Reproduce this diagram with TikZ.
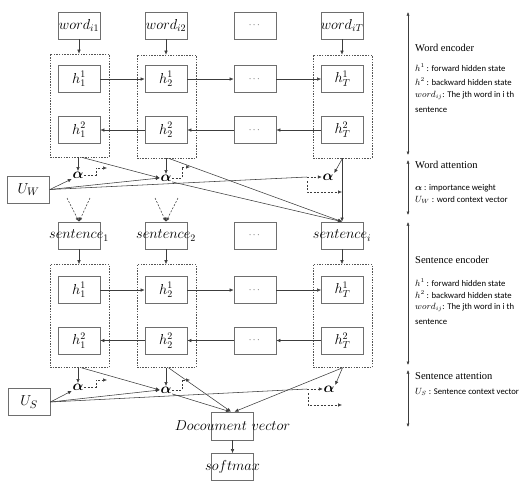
\documentclass[tikz,border=0pt]{standalone}
\usepackage{amsmath}
\usepackage{bm}
\usepackage{fontspec}
\newfontfamily\carlitofont{Carlito}
\newfontfamily\headfont{Liberation Serif}
\usetikzlibrary{arrows.meta}
\definecolor{boxc}{HTML}{6E6E6E}
\definecolor{linec}{HTML}{3C3C3C}
\definecolor{dashc}{HTML}{555555}
\begin{document}
\begin{tikzpicture}[x=1pt,y=-1pt,
 box/.style={draw=boxc, line width=0.7pt, minimum width=42pt, minimum height=27pt, inner sep=0pt, font=\fontsize{14}{16}\selectfont},
 grp/.style={draw=dashc, line width=0.6pt, dash pattern=on 1.5pt off 1.2pt, minimum width=59pt, minimum height=103pt, inner sep=0pt},
 arr/.style={draw=linec, line width=0.55pt, -{Latex[length=4pt,width=3.5pt]}},
 darr/.style={arr, dash pattern=on 2pt off 1.5pt},
 alp/.style={inner sep=0.5pt, font=\fontsize{15}{16}\selectfont},
 lbl/.style={inner sep=0pt, font=\fontsize{14}{16}\selectfont},
 dotsf/.style={font=\fontsize{9}{10}\selectfont},
 side/.style={anchor=west, inner sep=0pt, font=\carlitofont\fontsize{8.7}{10}\selectfont},
 head/.style={anchor=west, inner sep=0pt, font=\headfont\fontsize{10.5}{12}\selectfont},
 sarr/.style={draw=linec, line width=0.5pt, {Latex[length=3.5pt,width=3pt]}-{Latex[length=3.5pt,width=3pt]}}
]
\useasboundingbox (0,0) rectangle (525,480);

% ---------- word row ----------
\node[box, label={[lbl,name=w1t]center:$word_{i1}$}] (w1) at (79,25.5) {};
\node[box, label={[lbl,name=w2t]center:$word_{i2}$}] (w2) at (166,25.5) {};
\node[box, dotsf] (w3) at (255,25.5) {$\cdots$};
\node[box, label={[lbl,name=w4t]center:$word_{iT}$}] (w4) at (342,25.5) {};

% ---------- word encoder ----------
\node[grp] (g1) at (79.5,105.5) {};
\node[grp] (g2) at (166.5,106.5) {};
\node[grp] (g3) at (342.5,106.5) {};

\node[box] (a1) at (79,79) {$h_1^1$};
\node[box] (a2) at (166,79) {$h_2^1$};
\node[box, dotsf] (a3) at (255,79) {$\cdots$};
\node[box] (a4) at (342.5,79) {$h_T^1$};
\node[box] (b1) at (79,130) {$h_1^2$};
\node[box] (b2) at (166,130) {$h_2^2$};
\node[box, dotsf] (b3) at (255,130) {$\cdots$};
\node[box] (b4) at (342.5,130) {$h_T^2$};

\draw[arr] (w1.south) -- (w1.south |- g1.north);
\draw[arr] (w2.south) -- (w2.south |- g2.north);
\draw[arr] (w4.south) -- (w4.south |- g3.north);
\draw[arr] (a1) -- (a2);
\draw[arr] (a2) -- (a3);
\draw[arr] (a3) -- (a4);
\draw[arr] (b4) -- (b3);
\draw[arr] (b3) -- (b2);
\draw[arr] (b2) -- (b1);

% ---------- word attention ----------
\node[box, font=\fontsize{15}{16}\selectfont] (uw) at (28.5,189.5) {$U_W$};
\node[alp] (al1) at (78,175) {$\bm{\alpha}$};
\node[alp] (al2) at (166,178) {$\bm{\alpha}$};
\node[alp] (al3) at (328,177) {$\bm{\alpha}$};

\node[box, label={[lbl,name=s1t]center:$sentence_1$}] (s1) at (79,235.5) {};
\node[box, label={[lbl,name=s2t]center:$sentence_2$}] (s2) at (166,235.5) {};
\node[box, dotsf] (s3) at (255,235.5) {$\cdots$};
\node[box, label={[lbl,name=s4t]center:$sentence_i$}] (s4) at (342,235.5) {};

\draw[arr] (al1 |- g1.south) -- (al1.north);
\draw[arr] ([xshift=2pt]g1.south) -- (al2.west);
\draw[arr] (al2 |- g2.south) -- (al2.north);
\draw[arr] ([xshift=2pt]g2.south) -- (s4.north);
\draw[arr] (al2.south east) -- (s4.north);
\draw[arr] (g3.south) -- (al3.north east);
\draw[arr] (s4.north |- g3.south) -- (s4.north);

\coordinate (c3) at (307,177);
\draw[arr] (uw.east) -- (al1.south west);
\draw[arr] (uw.east) -- (al2.west);
\draw[draw=linec, line width=0.55pt] (uw.east) -- (c3);
\draw[darr] (c3) -- (al3.west);

\coordinate (e1a) at (96,175); \coordinate (e1b) at (96,168); \coordinate (e1c) at (107,168);
\draw[darr] (al1.east) -- (e1a) -- (e1b) -- (e1c);
\coordinate (e2a) at (182,178); \coordinate (e2b) at (182,167); \coordinate (e2c) at (190,167);
\draw[darr] (al2.east) -- (e2a) -- (e2b) -- (e2c);
\coordinate (e3a) at (307,181); \coordinate (e3b) at (307,192); \coordinate (e3c) at (342,192);
\draw[darr] (e3a) -- (e3b) -- (e3c);

\coordinate (v1a) at (67,198); \coordinate (v1b) at (90,198);
\coordinate (v2a) at (155,198); \coordinate (v2b) at (178,198);
\draw[darr] (v1a) -- (s1.north);
\draw[darr] (v1b) -- (s1.north);
\draw[darr] (v2a) -- (s2.north);
\draw[darr] (v2b) -- (s2.north);

% ---------- sentence encoder ----------
\node[grp] (G1) at (79.5,316) {};
\node[grp] (G2) at (166.5,316) {};
\node[grp] (G3) at (342.5,316) {};

\node[box] (p1) at (79,290) {$h_1^1$};
\node[box] (p2) at (166,290) {$h_2^1$};
\node[box, dotsf] (p3) at (255,290) {$\cdots$};
\node[box] (p4) at (342.5,290) {$h_T^1$};
\node[box] (q1) at (79,340.5) {$h_1^2$};
\node[box] (q2) at (166,340.5) {$h_2^2$};
\node[box, dotsf] (q3) at (255,340.5) {$\cdots$};
\node[box] (q4) at (342.5,340.5) {$h_T^2$};

\draw[arr] (s1.south) -- (s1.south |- G1.north);
\draw[arr] (s2.south) -- (s2.south |- G2.north);
\draw[arr] (s4.south) -- (s4.south |- G3.north);
\draw[arr] (p1) -- (p2);
\draw[arr] (p2) -- (p3);
\draw[arr] (p3) -- (p4);
\draw[arr] (q4) -- (q3);
\draw[arr] (q3) -- (q2);
\draw[arr] (q2) -- (q1);

% ---------- sentence attention ----------
\node[box, font=\fontsize{15}{16}\selectfont] (us) at (29,402) {$U_S$};
\node[alp] (be1) at (78,387) {$\bm{\alpha}$};
\node[alp] (be2) at (166,390) {$\bm{\alpha}$};
\node[alp] (be3) at (329,389) {$\bm{\alpha}$};

\node[box, minimum height=28pt, label={[lbl,name=dt]center:$Docoument\ vector$}] (doc) at (232.5,426) {};
\node[box, label={[lbl,name=smt]center:$softmax$}] (sm) at (232.5,467) {};

\draw[arr] (be1 |- G1.south) -- (be1.north);
\draw[arr] ([xshift=2pt]G1.south) -- (be2.west);
\draw[arr] (be2 |- G2.south) -- (be2.north);
\draw[arr] ([xshift=2pt]G2.south) -- ([xshift=-1.5pt]doc.north);
\draw[arr] (be2.south east) -- ([xshift=-2.5pt]doc.north);
\draw[arr] (G3.south) -- ([xshift=2pt]doc.north);
\draw[arr] (G3.south) -- (be3.north east);

\coordinate (d3) at (307,389);
\draw[arr] (us.east) -- (be1.south west);
\draw[arr] (us.east) -- (be2.west);
\draw[draw=linec, line width=0.55pt] (us.east) -- (d3);
\draw[darr] (d3) -- (be3.west);

\coordinate (f1a) at (96,387); \coordinate (f1b) at (96,380); \coordinate (f1c) at (107,380);
\draw[darr] (be1.east) -- (f1a) -- (f1b) -- (f1c);
\coordinate (f2a) at (182,390); \coordinate (f2b) at (182,380); \coordinate (f2c) at (190,380);
\draw[darr] (be2.east) -- (f2a) -- (f2b) -- (f2c);
\coordinate (f3a) at (308,393); \coordinate (f3b) at (308,405); \coordinate (f3c) at (342,405);
\draw[darr] (f3a) -- (f3b) -- (f3c);

\draw[arr] (doc.south) -- (sm.north);

% ---------- right side legend ----------
\coordinate (r1a) at (408,12);  \coordinate (r1b) at (408,155);
\coordinate (r2a) at (408,160); \coordinate (r2b) at (408,215);
\coordinate (r3a) at (408,222); \coordinate (r3b) at (408,365);
\coordinate (r4a) at (408,370); \coordinate (r4b) at (408,427);
\draw[sarr] (r1a) -- (r1b);
\draw[sarr] (r2a) -- (r2b);
\draw[sarr] (r3a) -- (r3b);
\draw[sarr] (r4a) -- (r4b);

\node[head] (t1) at (415,48) {Word encoder};
\node[side] (t2) at (415,68) {$h^1$ : forward hidden state};
\node[side] (t3) at (415,82) {$h^2$ : backward hidden state};
\node[side] (t4) at (415,95) {$word_{ij}$: The jth word in i th};
\node[side] (t5) at (415,110) {sentence};
\node[head] (t6) at (415,165) {Word attention};
\node[side] (t7) at (415,188) {$\bm{\alpha}$ : importance weight};
\node[side] (t8) at (415,200) {$U_W$ : word context vector};
\node[head] (t9) at (415,260) {Sentence encoder};
\node[side] (t10) at (415,283) {$h^1$ : forward hidden state};
\node[side] (t11) at (415,295) {$h^2$ : backward hidden state};
\node[side] (t12) at (415,307) {$word_{ij}$: The jth word in i th};
\node[side] (t13) at (415,322) {sentence};
\node[head] (t14) at (415,376) {Sentence attention};
\node[side] (t15) at (415,392) {$U_S$ : Sentence context vector};
\end{tikzpicture}
\end{document}
